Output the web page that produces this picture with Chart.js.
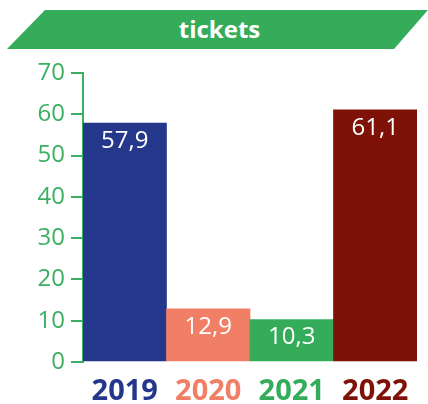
<!DOCTYPE html>
<html><head><meta charset="utf-8">
<script src="https://cdn.jsdelivr.net/npm/chart.js@4/dist/chart.umd.min.js"></script>
<style>
html,body{margin:0;padding:0;background:#fff;}
#wrap{position:relative;width:428px;height:404px;}
#banner{position:absolute;left:7px;top:10px;width:421px;height:39px;background:#34AC5A;
clip-path:polygon(38px 0,421px 0,387px 39px,0 39px);color:#fff;font:bold 24px "Open Sans",sans-serif;
text-align:center;line-height:37px;box-sizing:border-box;padding-left:4px;}
canvas{position:absolute;left:0;top:0;}
</style></head><body>
<div id="wrap"><div id="banner">tickets</div><canvas id="c" width="428" height="404"></canvas></div>
<script>
const categories = ["2019","2020","2021","2022"];
const values = [57.9, 12.9, 10.3, 61.1];
const barColors = ["#25378B","#F07F65","#34AC5A","#7E1208"];
const yTicks = [0,10,20,30,40,50,60,70];
const green = "#3CB062";

const labelPlugin = {
  id:'valLabels',
  afterDatasetsDraw(chart){
    const ctx = chart.ctx;
    const meta = chart.getDatasetMeta(0);
    ctx.save();
    ctx.fillStyle = '#fff';
    ctx.font = '24px "Open Sans", sans-serif';
    ctx.textAlign = 'center';
    ctx.textBaseline = 'middle';
    meta.data.forEach((bar,i)=>{
      ctx.fillText(values[i].toFixed(1).replace('.',','), bar.x, bar.y + 18);
    });
    ctx.restore();
  }
};

new Chart(document.getElementById('c'),{
  type:'bar',
  data:{labels:categories,datasets:[{data:values,backgroundColor:barColors,barPercentage:1,categoryPercentage:1,borderWidth:0}]},
  options:{
    responsive:false,animation:false,
    layout:{padding:{left:0,right:11,top:73,bottom:0}},
    plugins:{legend:{display:false},tooltip:{enabled:false}},
    scales:{
      x:{
        grid:{display:false,drawTicks:false},
        border:{display:false},
        ticks:{padding:12,font:{family:'"Open Sans", sans-serif',size:29,weight:'bold'},
          color:(c)=>barColors[c.index]},
        afterFit(s){s.height=42;}
      },
      y:{
        min:0,max:70,
        afterBuildTicks(s){s.ticks=yTicks.map(v=>({value:v}));},
        grid:{drawOnChartArea:false,drawTicks:true,tickLength:12,color:green,lineWidth:2},
        border:{display:true,color:green,width:2},
        ticks:{padding:6,color:green,font:{family:'"Open Sans", sans-serif',size:24}},
        afterFit(s){s.width=83;}
      }
    }
  },
  plugins:[labelPlugin]
});
</script>
</body></html>
